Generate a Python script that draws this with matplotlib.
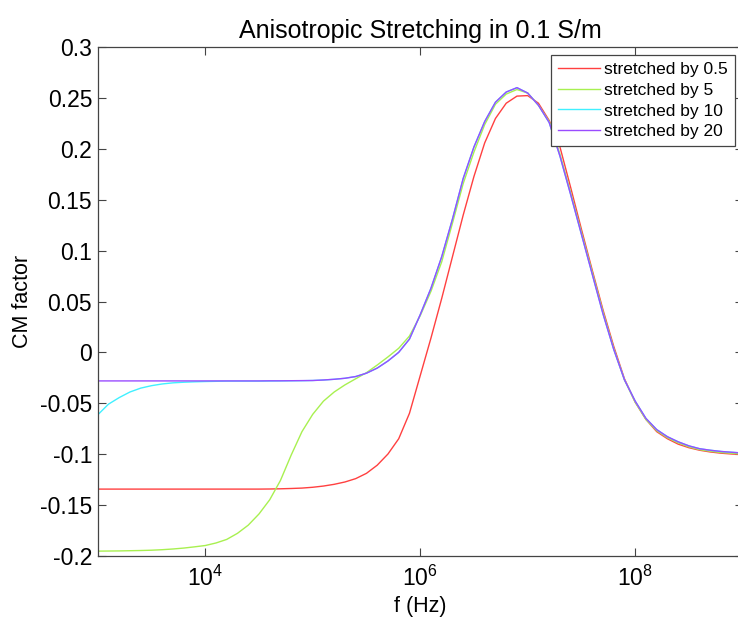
import numpy as np
import matplotlib.pyplot as plt
from matplotlib.ticker import FixedLocator, FixedFormatter, NullLocator

plt.rcParams['font.family'] = ['Liberation Sans', 'DejaVu Sans']
plt.rcParams['mathtext.fontset'] = 'custom'
plt.rcParams['mathtext.rm'] = 'Liberation Sans'
plt.rcParams['axes.unicode_minus'] = False

# log10(f) grid, 0.1 decade steps from 1e3 to 1e9
log_f = [3.0 + 0.1 * i for i in range(61)]

# CM factor values at each log_f point
cm_05 = [-0.1345, -0.1345, -0.1345, -0.1345, -0.1345, -0.1345, -0.1345, -0.1345,
         -0.1345, -0.1345, -0.1345, -0.1345, -0.1345, -0.1345, -0.1345, -0.1345,
         -0.1344, -0.1342, -0.1339, -0.1335,
         -0.1327, -0.1315, -0.1298, -0.1275, -0.1242, -0.119, -0.111, -0.100,
         -0.085, -0.060,
         -0.023, 0.014, 0.053, 0.094, 0.135, 0.173, 0.206, 0.230, 0.245, 0.252,
         0.2525, 0.245, 0.228, 0.202, 0.162, 0.121, 0.081, 0.042, 0.006, -0.026,
         -0.049, -0.066, -0.078, -0.085, -0.0903, -0.0938, -0.0963, -0.098,
         -0.0992, -0.1000, -0.1006]

cm_5 = [-0.1955, -0.1954, -0.1953, -0.1951, -0.1949, -0.1946, -0.1941, -0.1934,
        -0.1925, -0.1913,
        -0.1900, -0.1875, -0.184, -0.178, -0.170, -0.159, -0.145, -0.126, -0.101,
        -0.078,
        -0.061, -0.048, -0.039, -0.032, -0.026, -0.020, -0.0125, -0.0045, 0.004,
        0.016,
        0.036, 0.060, 0.089, 0.127, 0.166, 0.197, 0.224, 0.244, 0.254, 0.2585,
        0.255, 0.243, 0.227, 0.195, 0.157, 0.118, 0.079, 0.040, 0.004, -0.027,
        -0.049, -0.066, -0.077, -0.084, -0.089, -0.093, -0.0957, -0.0973,
        -0.0985, -0.0993, -0.100]

cm_10 = [-0.0615, -0.051, -0.0445, -0.039, -0.0352, -0.0328, -0.0311, -0.0300,
         -0.0294, -0.0290,
         -0.0287, -0.0285, -0.0283, -0.0283, -0.0283, -0.0283, -0.0282, -0.0281,
         -0.0280, -0.0279,
         -0.0277, -0.0272, -0.0265, -0.0255, -0.0238, -0.0205, -0.0155, -0.0085,
         0.000, 0.013,
         0.037, 0.063, 0.094, 0.131, 0.171, 0.202, 0.227, 0.246, 0.256, 0.2603,
         0.255, 0.243, 0.226, 0.193, 0.155, 0.116, 0.077, 0.038, 0.003, -0.027,
         -0.048, -0.065, -0.076, -0.083, -0.088, -0.092, -0.0948, -0.0963,
         -0.0975, -0.0983, -0.099]

cm_20 = [-0.0281, -0.0281, -0.0281, -0.0281, -0.0281, -0.0281, -0.0281, -0.0281,
         -0.0281, -0.0281, -0.0281, -0.0281, -0.0281, -0.0281, -0.0281, -0.0281,
         -0.0280, -0.0280, -0.0279, -0.0278,
         -0.0277, -0.0272, -0.0265, -0.0255, -0.0238, -0.0205, -0.0155, -0.0085,
         0.000, 0.013,
         0.037, 0.063, 0.094, 0.131, 0.171, 0.202, 0.227, 0.246, 0.256, 0.2603,
         0.255, 0.243, 0.226, 0.193, 0.155, 0.116, 0.077, 0.038, 0.003, -0.027,
         -0.048, -0.065, -0.076, -0.083, -0.088, -0.092, -0.0948, -0.0963,
         -0.0975, -0.0983, -0.099]

labels = ['stretched by 0.5', 'stretched by 5', 'stretched by 10', 'stretched by 20']
colors = ['#ff4040', '#a8f050', '#40f0ff', '#9a4cff']

fig = plt.figure(figsize=(7.38, 6.23), dpi=100)
ax = fig.add_axes([97.7 / 738, 1 - 555.7 / 623, 645 / 738, 508.4 / 623])

freq = 10 ** np.array(log_f)
for cm, label, color in zip([cm_05, cm_5, cm_10, cm_20], labels, colors):
    ax.plot(freq, cm, color=color, lw=1.0, label=label)

ax.set_xscale('log')
ax.set_xlim(1e3, 1e9)
ax.set_ylim(-0.2, 0.3)
ax.xaxis.set_major_locator(FixedLocator([1e4, 1e6, 1e8]))
ax.xaxis.set_major_formatter(FixedFormatter([r'$\mathregular{10^{4}}$',
                                             r'$\mathregular{10^{6}}$',
                                             r'$\mathregular{10^{8}}$']))
ax.xaxis.set_minor_locator(NullLocator())
ax.set_yticks(np.arange(-0.2, 0.301, 0.05))
ax.set_yticklabels(['-0.2', '-0.15', '-0.1', '-0.05', '0', '0.05', '0.1',
                    '0.15', '0.2', '0.25', '0.3'])
ax.tick_params(direction='in', length=6, width=0.8, color='#444444',
               labelsize=16.5, top=True, right=True)
ax.tick_params(axis='y', pad=4)
ax.tick_params(axis='x', pad=7)
for s in ax.spines.values():
    s.set_color('#444444')
    s.set_linewidth(0.9)

ax.set_title('Anisotropic Stretching in 0.1 S/m', fontsize=18, pad=7)
ax.set_xlabel('f (Hz)', fontsize=15.5, labelpad=4)
ax.set_ylabel('CM factor', fontsize=15.5, labelpad=5)

leg = ax.legend(loc='upper right', bbox_to_anchor=(735 / 738, 1 - 55 / 623),
                bbox_transform=fig.transFigure, fontsize=12.5, frameon=True,
                fancybox=False, framealpha=1, edgecolor='#444444',
                borderaxespad=0, handlelength=2.4, labelspacing=0.32,
                borderpad=0.4, handletextpad=0.25)
leg.get_frame().set_linewidth(0.9)

fig.savefig('out.png', dpi=100)
